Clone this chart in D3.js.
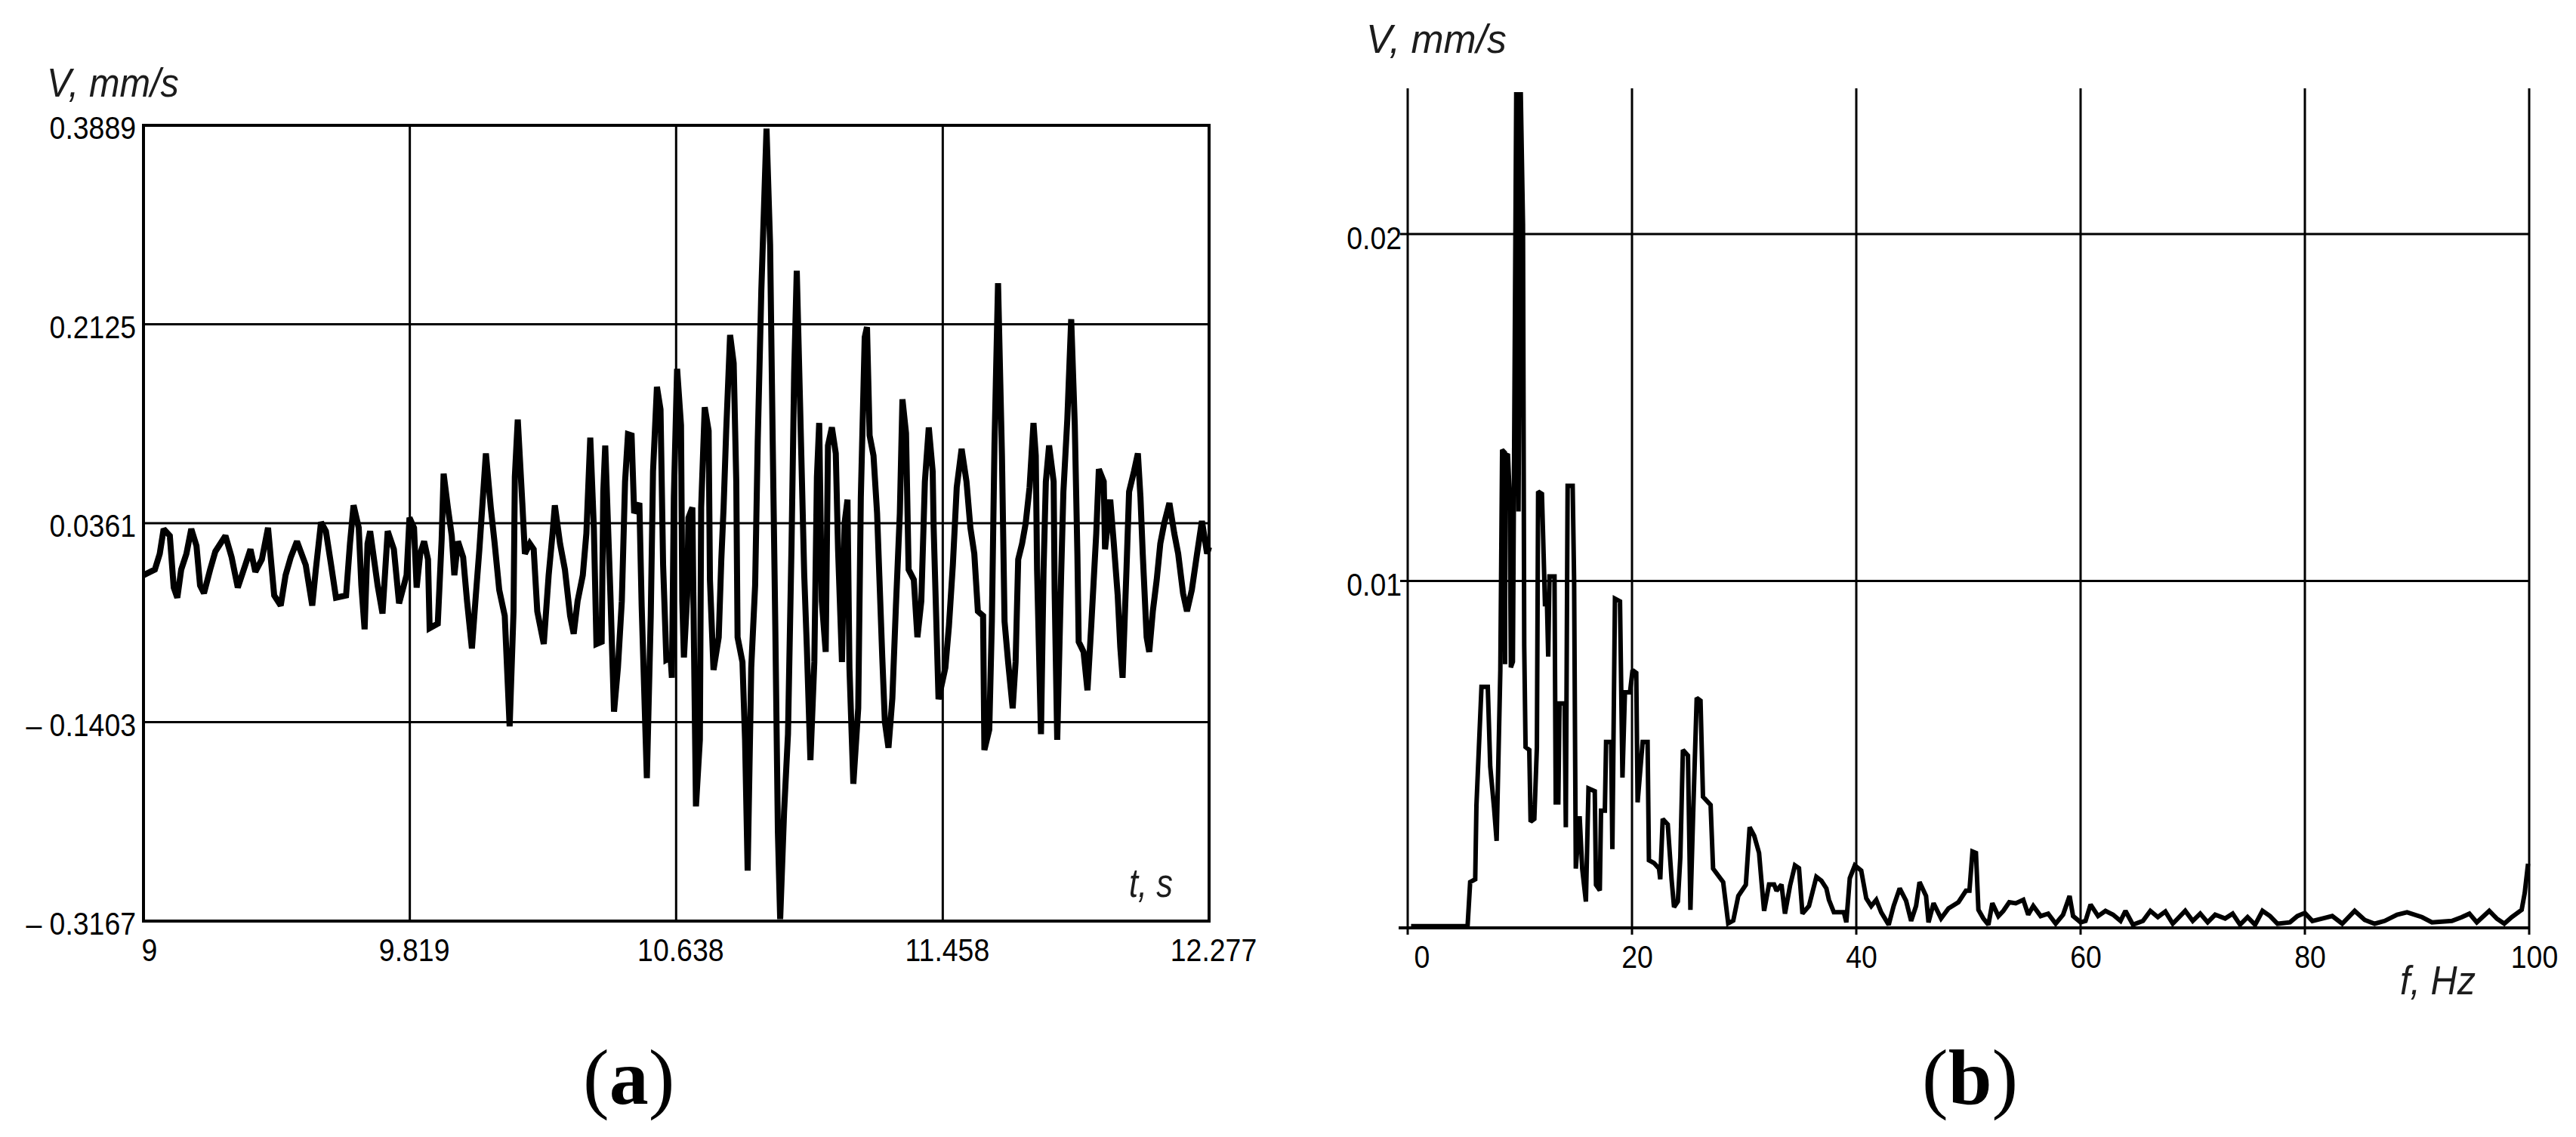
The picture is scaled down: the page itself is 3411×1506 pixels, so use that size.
<!DOCTYPE html>
<html><head><meta charset="utf-8">
<script src="https://cdn.jsdelivr.net/npm/d3@7"></script>
<style>
html,body{margin:0;padding:0;background:#fff;}
svg{display:block;}
</style></head><body>
<svg id="chart" width="3411" height="1506"></svg>
<script>
// ---------- (a) time history ----------
const timeS = [9.000,9.035,9.050,9.062,9.081,9.093,9.104,9.116,9.132,9.147,9.163,9.174,9.186,9.205,9.221,9.252,9.271,9.290,9.313,9.329,9.344,9.364,9.383,9.402,9.422,9.437,9.453,9.472,9.499,9.519,9.530,9.546,9.561,9.577,9.592,9.623,9.635,9.646,9.662,9.670,9.680,9.689,9.697,9.720,9.735,9.751,9.770,9.786,9.809,9.818,
9.832,9.840,9.851,9.863,9.875,9.880,9.905,9.917,9.923,9.936,9.948,9.956,9.967,9.983,9.995,10.010,10.022,10.033,10.053,10.068,10.080,10.094,10.111,10.126,10.138,10.142,10.151,10.165,10.173,10.188,10.200,10.211,10.231,10.246,10.258,10.265,10.281,10.296,10.312,10.323,10.335,10.351,10.362,10.374,10.385,10.393,10.409,10.414,10.420,10.436,10.447,10.459,10.471,10.481,10.490,10.501,10.509,10.525,10.532,10.548,10.560,10.567,10.579,10.590,10.598,10.608,10.621,10.625,
10.631,10.641,10.653,10.657,10.662,10.672,10.676,10.688,10.691,10.699,10.711,10.715,10.726,10.738,10.742,10.753,10.769,10.777,10.784,10.792,10.804,10.815,10.823,10.827,10.842,10.850,10.858,10.869,10.881,10.889,10.900,10.916,10.927,10.935,10.943,10.951,10.958,10.970,10.982,10.993,11.001,11.009,11.020,11.032,11.040,11.051,11.063,11.071,11.078,11.086,11.098,11.105,11.117,11.129,11.136,11.148,11.156,11.165,11.171,11.183,11.198,11.206,11.218,11.225,11.233,11.245,11.256,11.272,11.280,11.291,11.303,11.314,11.326,11.334,11.345,11.353,11.369,11.380,11.392,11.403,11.415,11.427,11.430,11.445,
11.466,11.477,11.489,11.501,11.516,11.531,11.543,11.555,11.566,11.582,11.586,11.601,11.609,11.617,11.628,11.640,11.648,11.659,11.673,11.682,11.690,11.702,11.713,11.725,11.737,11.744,11.748,11.760,11.768,11.775,11.785,11.799,11.802,11.810,11.822,11.829,11.841,11.853,11.864,11.872,11.876,11.891,11.903,11.915,11.930,11.938,11.953,11.957,11.973,11.984,11.996,12.004,12.011,12.023,12.031,12.046,12.058,12.066,12.073,12.085,12.093,12.104,12.116,12.127,12.139,12.155,12.170,12.182,12.197,12.209,12.224,12.240,12.255,12.271,12.277];
const velocityA = [-0.010,-0.005,0.009,0.031,0.025,-0.021,-0.030,-0.005,0.009,0.031,0.016,-0.019,-0.026,-0.005,0.011,0.025,0.006,-0.021,-0.001,0.013,-0.007,0.004,0.032,-0.028,-0.037,-0.010,0.006,0.020,-0.001,-0.037,-0.005,0.037,0.029,-0.001,-0.030,-0.028,0.018,0.052,0.032,-0.019,-0.058,0.018,0.029,-0.019,-0.044,0.029,0.013,-0.035,-0.010,0.041,
0.032,-0.021,0.009,0.020,0.004,-0.057,-0.053,0.022,0.080,0.050,0.025,-0.010,0.020,0.006,-0.033,-0.075,-0.028,0.013,0.098,0.050,0.018,-0.023,-0.046,-0.144,-0.042,0.077,0.128,0.054,0.009,0.018,0.013,-0.042,-0.071,-0.010,0.027,0.052,0.018,-0.005,-0.046,-0.062,-0.033,-0.010,0.027,0.112,0.032,-0.071,-0.069,0.064,0.105,-0.028,-0.131,-0.092,-0.033,0.073,0.115,0.114,0.045,0.054,-0.037,-0.190,-0.046,0.082,0.157,0.137,-0.001,-0.085,-0.083,-0.101,
0.059,0.173,0.123,-0.033,-0.083,-0.028,0.041,0.050,-0.028,-0.215,-0.156,0.050,0.139,0.118,-0.014,-0.094,-0.065,0.004,0.050,0.118,0.203,0.178,0.073,-0.065,-0.087,-0.156,-0.272,-0.092,-0.019,0.109,0.242,0.386,0.283,0.109,-0.055,-0.238,-0.315,-0.220,-0.151,0.018,0.169,0.260,0.132,-0.010,-0.074,-0.174,-0.087,0.077,0.125,-0.033,-0.078,0.105,0.121,0.098,0.013,-0.087,0.036,0.057,-0.092,-0.195,-0.128,0.059,0.201,0.210,0.114,0.096,0.045,-0.083,-0.140,-0.163,-0.119,-0.037,0.045,0.146,0.116,-0.005,-0.014,-0.065,-0.033,0.073,0.121,0.082,0.032,-0.120,
-0.092,-0.055,-0.001,0.068,0.102,0.073,0.032,0.009,-0.042,-0.046,-0.165,-0.147,-0.051,0.105,0.249,0.096,-0.051,-0.087,-0.128,-0.087,0.004,0.018,0.036,0.068,0.125,0.096,-0.005,-0.151,-0.005,0.073,0.105,0.073,-0.023,-0.156,-0.010,0.064,0.128,0.217,0.123,0.009,-0.069,-0.078,-0.112,-0.053,0.027,0.084,0.073,0.013,0.057,0.018,-0.028,-0.074,-0.101,-0.005,0.064,0.082,0.098,0.059,0.009,-0.065,-0.078,-0.042,-0.014,0.018,0.036,0.054,0.027,0.009,-0.026,-0.042,-0.023,0.009,0.038,0.009,0.015];
const timeTicks = [9, 9.819, 10.638, 11.458, 12.277];
const timeTickLabels = ["9", "9.819", "10.638", "11.458", "12.277"];
const velTicks = [0.3889, 0.2125, 0.0361, -0.1403, -0.3167];
const velTickLabels = ["0.3889", "0.2125", "0.0361", "\u2013 0.1403", "\u2013 0.3167"];

// ---------- (b) spectrum ----------
const freqHz = [0.3,5.34,5.57,6.02,6.13,6.35,6.58,7.14,7.36,7.70,7.93,8.26,8.42,8.66,8.68,8.70,8.94,9.09,9.20,9.38,9.68,9.88,10.08,10.28,10.39,10.51,10.84,10.96,11.29,11.52,11.63,11.97,12.12,12.24,12.42,12.53,12.64,13.09,13.20,13.43,13.54,13.99,14.10,14.26,14.71,14.84,14.99,15.33,15.56,15.89,16.12,16.68,16.79,17.13,17.24,17.58,17.69,18.14,18.25,18.48,18.93,19.15,19.37,19.82,20.05,20.38,20.50,20.95,21.39,21.51,21.96,22.41,22.52,22.74,23.19,23.53,23.75,24.09,24.31,24.54,24.99,25.21,25.44,25.77,26.11,26.33,27.01,27.23,28.13,28.58,29.03,29.48,30.15,30.49,30.90,31.33,31.56,31.78,
32.22,32.67,32.89,33.33,33.64,34.09,34.53,34.89,35.20,35.78,36.44,36.89,37.33,37.56,38.00,38.89,39.11,39.42,39.87,40.44,40.89,41.33,41.78,42.22,42.89,43.33,43.87,44.44,44.89,45.33,45.64,46.22,46.44,46.89,47.56,48.22,49.11,49.78,50.09,50.36,50.67,50.89,51.33,51.78,52.13,52.67,53.11,53.64,54.22,54.89,55.33,55.78,56.44,57.11,57.78,58.44,59.02,59.33,60.00,60.44,60.89,61.56,62.22,62.89,63.56,64.00,64.67,65.56,66.22,66.89,67.56,68.22,69.33,70.00,70.67,71.33,72.00,72.89,73.56,74.22,74.89,75.56,76.22,76.89,77.56,78.67,79.33,80.00,80.67,81.56,82.44,83.33,84.44,85.33,86.22,87.11,88.22,89.11,90.44,91.33,93.11,94.00,94.67,95.33,96.44,97.11,97.78,98.44,99.33,99.60,99.90];
const amplitude = [0.00005,0.00005,0.00132,0.00140,0.00354,0.00521,0.00695,0.00695,0.00465,0.00346,0.00251,0.00743,0.01378,0.01370,0.00760,0.01365,0.01362,0.01251,0.00751,0.00767,0.02409,0.01200,0.02409,0.02028,0.00814,0.00521,0.00513,0.00306,0.00314,0.00521,0.01258,0.01251,0.01076,0.00933,0.00933,0.00782,0.01013,0.01013,0.00362,0.00362,0.00647,0.00647,0.00290,0.01274,0.01274,0.00997,0.00171,0.00322,0.00171,0.00076,0.00402,0.00394,0.00124,0.00108,0.00338,0.00338,0.00536,0.00536,0.00227,0.00949,0.00941,0.00433,0.00679,0.00679,0.00743,0.00735,0.00362,0.00536,0.00536,0.00195,0.00187,0.00171,0.00140,0.00314,0.00298,0.00140,0.00060,0.00076,0.00203,0.00513,0.00497,0.00052,0.00314,0.00663,0.00655,0.00378,0.00354,0.00171,0.00132,0.00013,0.00021,0.00092,0.00124,0.00290,0.00265,0.00216,0.00129,0.00049,
0.00125,0.00125,0.00107,0.00125,0.00041,0.00121,0.00180,0.00172,0.00041,0.00063,0.00147,0.00136,0.00114,0.00081,0.00045,0.00045,0.00016,0.00143,0.00180,0.00165,0.00085,0.00063,0.00081,0.00045,0.00009,0.00063,0.00114,0.00078,0.00020,0.00063,0.00132,0.00092,0.00016,0.00071,0.00027,0.00056,0.00074,0.00107,0.00107,0.00220,0.00216,0.00052,0.00027,0.00009,0.00071,0.00034,0.00049,0.00074,0.00071,0.00081,0.00038,0.00063,0.00034,0.00041,0.00012,0.00038,0.00092,0.00034,0.00016,0.00020,0.00067,0.00034,0.00049,0.00038,0.00020,0.00049,0.00009,0.00020,0.00049,0.00031,0.00047,0.00012,0.00049,0.00020,0.00041,0.00016,0.00038,0.00027,0.00041,0.00009,0.00031,0.00009,0.00049,0.00034,0.00012,0.00016,0.00034,0.00043,0.00020,0.00027,0.00034,0.00012,0.00049,0.00023,0.00012,0.00020,0.00038,0.00045,0.00031,0.00016,0.00020,0.00031,0.00041,0.00016,0.00049,0.00027,0.00012,0.00031,0.00052,0.00100,0.00185];
const freqTicks = [0, 20, 40, 60, 80, 100];
const freqTickLabels = ["0", "20", "40", "60", "80", "100"];
const ampTicks = [0.01, 0.02];
const ampTickLabels = ["0.01", "0.02"];

const svg = d3.select("#chart");
const TICK_FONT = "'Liberation Sans', Arial, sans-serif";
const TICK_SIZE = 43;
const SQUEEZE = 0.87;

// text drawn inside a horizontally-scaled group so its box stays exact
function tickText(parent, txt, x, y, anchor) {
  parent.append("g").attr("transform", `translate(${x},${y}) scale(${SQUEEZE},1)`)
    .append("text").attr("x", 0).attr("y", 0).attr("text-anchor", anchor)
    .attr("font-family", TICK_FONT).attr("font-size", TICK_SIZE).attr("fill", "#000")
    .text(txt);
}
function italicLabel(txt, x, y, len) {
  const g = svg.append("g");
  const t = g.append("text").attr("x", 0).attr("y", 0).text(txt)
    .attr("font-family", TICK_FONT).attr("font-style", "italic").attr("font-size", 54)
    .attr("fill", "#1c1c1c");
  const w = t.node().getComputedTextLength();
  g.attr("transform", `translate(${x},${y}) scale(${len / w},1)`);
}

// ===== chart (a) =====
const xa = d3.scaleLinear().domain([9, 12.277]).range([190, 1601]);
const ya = d3.scaleLinear().domain([-0.3167, 0.3889]).range([1220, 166]);
const ga = svg.append("g");
ga.selectAll("line.vg").data(timeTicks.slice(1, -1)).join("line")
  .attr("x1", d => xa(d)).attr("x2", d => xa(d)).attr("y1", ya.range()[1]).attr("y2", ya.range()[0])
  .attr("stroke", "#000").attr("stroke-width", 3);
ga.selectAll("line.hg").data(velTicks.slice(1, -1)).join("line")
  .attr("y1", d => ya(d)).attr("y2", d => ya(d)).attr("x1", xa.range()[0]).attr("x2", xa.range()[1])
  .attr("stroke", "#000").attr("stroke-width", 3);
ga.append("rect").attr("x", xa.range()[0]).attr("y", ya.range()[1])
  .attr("width", xa.range()[1] - xa.range()[0]).attr("height", ya.range()[0] - ya.range()[1])
  .attr("fill", "none").attr("stroke", "#000").attr("stroke-width", 4);
const lineA = d3.line().x((d, i) => xa(timeS[i])).y(d => ya(d));
ga.append("path").attr("d", lineA(velocityA)).attr("fill", "none")
  .attr("stroke", "#000").attr("stroke-width", 8).attr("stroke-linejoin", "miter").attr("stroke-miterlimit", 2);
velTicks.forEach((v, i) => tickText(ga, velTickLabels[i], 180, ya(v) + 18, "end"));
timeTicks.forEach((t, i) => tickText(ga, timeTickLabels[i], xa(t) + (t === 9 ? 8 : 6), 1273, "middle"));
italicLabel("V, mm/s", 62, 128, 175);
italicLabel("t, s", 1495, 1188, 58);

// ===== chart (b) =====
const xb = d3.scaleLinear().domain([0, 100]).range([1864, 3349]);
const yb = d3.scaleLinear().domain([0, 0.0242]).range([1229, 117]);
const gb = svg.append("g");
gb.selectAll("line.vg").data(freqTicks).join("line")
  .attr("x1", d => xb(d)).attr("x2", d => xb(d)).attr("y1", yb.range()[1]).attr("y2", yb(0) + 9)
  .attr("stroke", "#000").attr("stroke-width", 3);
gb.selectAll("line.hg").data(ampTicks).join("line")
  .attr("y1", d => yb(d)).attr("y2", d => yb(d)).attr("x1", xb(0) - 10).attr("x2", xb(100))
  .attr("stroke", "#000").attr("stroke-width", 3);
gb.append("line").attr("x1", xb(0) - 12).attr("x2", xb(100)).attr("y1", yb(0)).attr("y2", yb(0))
  .attr("stroke", "#000").attr("stroke-width", 4);
const lineB = d3.line().x((d, i) => xb(freqHz[i])).y(d => yb(d));
gb.append("path").attr("d", lineB(amplitude)).attr("fill", "none")
  .attr("stroke", "#000").attr("stroke-width", 6).attr("stroke-linejoin", "miter").attr("stroke-miterlimit", 2);
ampTicks.forEach((v, i) => tickText(gb, ampTickLabels[i], 1856, yb(v) + 20, "end"));
freqTicks.forEach((f, i) => tickText(gb, freqTickLabels[i], xb(f) + (f === 0 ? 19 : 7), 1282, "middle"));
italicLabel("V, mm/s", 1809, 70, 186);
italicLabel("f, Hz", 3178, 1317, 100);

// ===== panel letters =====
function panelLetter(letter, x) {
  const t = svg.append("text").attr("x", x).attr("y", 1462)
    .attr("font-family", "'Liberation Serif', 'Times New Roman', serif").attr("font-size", 104)
    .attr("fill", "#000");
  t.append("tspan").attr("font-weight", "normal").text("(");
  t.append("tspan").attr("font-weight", "bold").text(letter);
  t.append("tspan").attr("font-weight", "normal").text(")");
}
panelLetter("a", 772);
panelLetter("b", 2545);
</script>
</body></html>
